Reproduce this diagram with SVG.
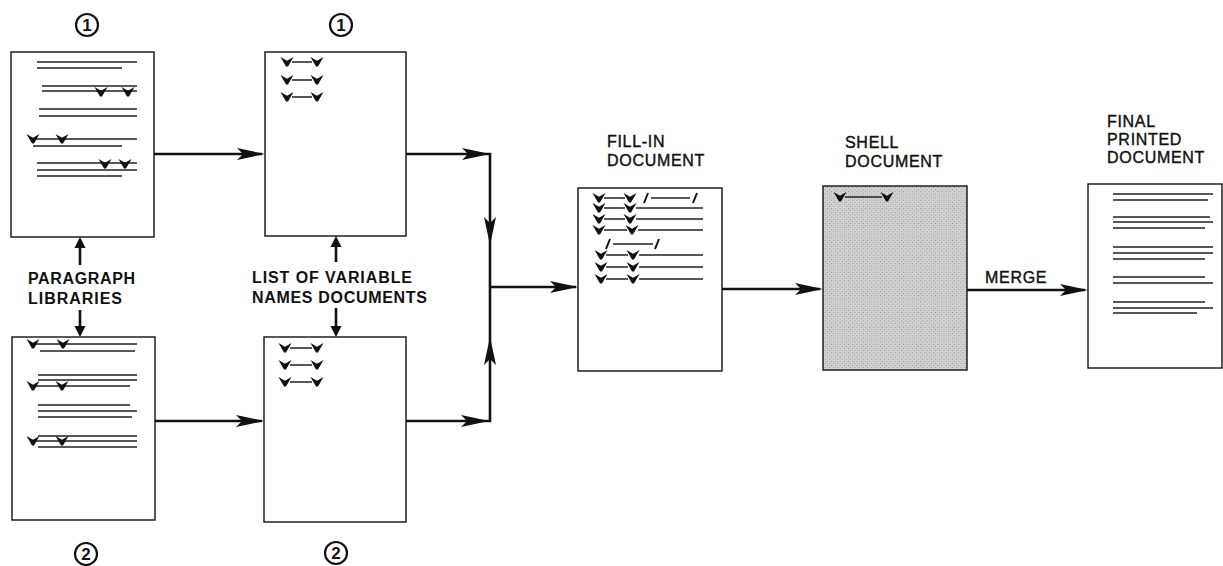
<svg xmlns="http://www.w3.org/2000/svg" xmlns:xlink="http://www.w3.org/1999/xlink" width="1223" height="566" viewBox="0 0 1223 566">
<style>
.doc{fill:#fff;stroke:#111;stroke-width:1.4}
.tl{stroke:#222;stroke-width:1.3;fill:none}
.cn{stroke:#111;stroke-width:2.6;fill:none}
.lbl{font-family:"Liberation Sans",Arial,sans-serif;font-size:16px;font-weight:bold;fill:#111}
.cap{font-family:"Liberation Sans",Arial,sans-serif;font-size:16px;fill:#111;stroke:#111;stroke-width:0.4;letter-spacing:0.7px}
.num{font-family:"Liberation Sans",Arial,sans-serif;font-size:17px;font-weight:bold;fill:#111;text-anchor:middle}
.circ{fill:none;stroke:#111;stroke-width:2.2}
.sl{stroke:#111;stroke-width:2}
</style>
<defs>
<path id="v" d="M-6.5,-5 L0,-1.2 L6.5,-5 L1,4.5 L-1,4.5 Z" fill="#111"/>
<path id="dart" d="M0,0 L-28,-6 L-22,0 L-28,6 Z" fill="#111"/>
<path id="tri" d="M0,0 L-11,-5.5 L-11,5.5 Z" fill="#111"/>
<pattern id="ht" width="3" height="3" patternUnits="userSpaceOnUse" patternTransform="rotate(45)">
<rect width="3" height="3" fill="#dadada"/>
<rect x="0" y="0" width="1" height="1" fill="#8a8a8a"/>
<rect x="1.5" y="1.5" width="1" height="1" fill="#a0a0a0"/>
</pattern>
</defs>

<g id="connectors">
<line class="cn" x1="154" y1="154" x2="262" y2="154"/>
<use xlink:href="#dart" transform="translate(265,154)"/>
<polyline class="cn" points="406,154 490,154 490,421 406,421"/>
<use xlink:href="#dart" transform="translate(490,154)"/>
<use xlink:href="#dart" transform="translate(490,245) rotate(90)"/>
<use xlink:href="#dart" transform="translate(490,337) rotate(-90)"/>
<use xlink:href="#dart" transform="translate(489,421)"/>
<line class="cn" x1="155" y1="421" x2="262" y2="421"/>
<use xlink:href="#dart" transform="translate(264,421)"/>
<line class="cn" x1="490" y1="287" x2="576" y2="287"/>
<use xlink:href="#dart" transform="translate(578,287)"/>
<line class="cn" x1="722" y1="289" x2="820" y2="289"/>
<use xlink:href="#dart" transform="translate(823,289)"/>
<line class="cn" x1="967" y1="290" x2="1085" y2="290"/>
<use xlink:href="#dart" transform="translate(1088,290)"/>
<line class="cn" x1="80" y1="265" x2="80" y2="245"/>
<use xlink:href="#tri" transform="translate(80,237) rotate(-90)"/>
<line class="cn" x1="80" y1="310" x2="80" y2="330"/>
<use xlink:href="#tri" transform="translate(80,337) rotate(90)"/>
<line class="cn" x1="336" y1="262" x2="336" y2="244"/>
<use xlink:href="#tri" transform="translate(336,236) rotate(-90)"/>
<line class="cn" x1="336" y1="308" x2="336" y2="330"/>
<use xlink:href="#tri" transform="translate(336,337) rotate(90)"/>
</g>

<g id="labels">
<text class="lbl" x="28" y="284" textLength="107" lengthAdjust="spacing">PARAGRAPH</text>
<text class="lbl" x="28" y="304" textLength="94" lengthAdjust="spacing">LIBRARIES</text>
<text class="lbl" x="252" y="283" textLength="160" lengthAdjust="spacing">LIST OF VARIABLE</text>
<text class="lbl" x="252" y="303" textLength="175" lengthAdjust="spacing">NAMES DOCUMENTS</text>
<text class="cap" x="985" y="283">MERGE</text>
</g>

<g id="num-top-1"><circle class="circ" cx="87" cy="25" r="11"/><text class="num" x="87" y="31">1</text></g>
<g id="num-top-2"><circle class="circ" cx="341" cy="25" r="11"/><text class="num" x="341" y="31">1</text></g>
<g id="num-bot-1"><circle class="circ" cx="86" cy="554" r="11"/><text class="num" x="86" y="560">2</text></g>
<g id="num-bot-2"><circle class="circ" cx="336" cy="553" r="11"/><text class="num" x="336" y="559">2</text></g>

<g id="paragraph-library-1">
<rect class="doc" x="11" y="52" width="143" height="185"/>
<path class="tl" d="M37,62H137M37,68H122M42,86H137M42,91H137M39,109H137M39,116H137M33,139H137M33,146H122M37,163H137M37,170H137M37,176H122"/>
<use xlink:href="#v" x="101" y="92"/><use xlink:href="#v" x="128" y="92"/>
<use xlink:href="#v" x="33" y="139"/><use xlink:href="#v" x="62" y="139"/>
<use xlink:href="#v" x="105" y="164"/><use xlink:href="#v" x="125" y="164"/>
</g>

<g id="variable-names-1">
<rect class="doc" x="265" y="52" width="141" height="184"/>
<path class="tl" d="M292,62H312M292,80H312M292,97H312"/>
<use xlink:href="#v" x="287" y="62"/><use xlink:href="#v" x="317" y="62"/>
<use xlink:href="#v" x="287" y="80"/><use xlink:href="#v" x="317" y="80"/>
<use xlink:href="#v" x="287" y="97"/><use xlink:href="#v" x="317" y="97"/>
</g>

<g id="paragraph-library-2">
<rect class="doc" x="12" y="337" width="143" height="183"/>
<path class="tl" d="M33,344H137M40,351H135M38,375H137M38,380H137M33,386H130M38,405H130M38,411H137M38,417H132M38,436H137M33,441H137M38,447H137"/>
<use xlink:href="#v" x="33" y="344"/><use xlink:href="#v" x="63" y="344"/>
<use xlink:href="#v" x="33" y="386"/><use xlink:href="#v" x="62" y="386"/>
<use xlink:href="#v" x="33" y="441"/><use xlink:href="#v" x="62" y="441"/>
</g>

<g id="variable-names-2">
<rect class="doc" x="264" y="337" width="142" height="185"/>
<path class="tl" d="M290,348H312M290,365H312M290,382H312"/>
<use xlink:href="#v" x="285" y="348"/><use xlink:href="#v" x="317" y="348"/>
<use xlink:href="#v" x="285" y="365"/><use xlink:href="#v" x="317" y="365"/>
<use xlink:href="#v" x="285" y="382"/><use xlink:href="#v" x="317" y="382"/>
</g>

<g id="fill-in-document">
<text class="cap" x="607" y="147">FILL-IN</text>
<text class="cap" x="607" y="166">DOCUMENT</text>
<rect class="doc" x="578" y="188" width="144" height="183"/>
<path class="tl" d="M604,198H625M651,198H690M604,208H625M636,208H703M604,219H625M636,219H703M604,230H627M638,230H703M613,244H653M606,255H628M639,255H703M606,267H628M639,267H703M606,279H628M639,279H703"/>
<use xlink:href="#v" x="599" y="198"/><use xlink:href="#v" x="630" y="198"/>
<use xlink:href="#v" x="599" y="208"/><use xlink:href="#v" x="630" y="208"/>
<use xlink:href="#v" x="599" y="219"/><use xlink:href="#v" x="630" y="219"/>
<use xlink:href="#v" x="599" y="230"/><use xlink:href="#v" x="632" y="230"/>
<use xlink:href="#v" x="601" y="255"/><use xlink:href="#v" x="633" y="255"/>
<use xlink:href="#v" x="601" y="267"/><use xlink:href="#v" x="633" y="267"/>
<use xlink:href="#v" x="601" y="279"/><use xlink:href="#v" x="633" y="279"/>
<path class="sl" d="M644,203L648,193M693,203L697,193M606,249L610,239M655,249L659,239"/>
</g>

<g id="shell-document">
<text class="cap" x="845" y="148">SHELL</text>
<text class="cap" x="845" y="167">DOCUMENT</text>
<rect x="823" y="186" width="144" height="184" fill="url(#ht)" stroke="#111" stroke-width="1.4"/>
<path class="tl" d="M845,197H882"/>
<use xlink:href="#v" x="840" y="197"/><use xlink:href="#v" x="887" y="197"/>
</g>

<g id="final-printed-document">
<text class="cap" x="1107" y="127">FINAL</text>
<text class="cap" x="1107" y="145">PRINTED</text>
<text class="cap" x="1107" y="163">DOCUMENT</text>
<rect class="doc" x="1088" y="184" width="134" height="184"/>
<path class="tl" d="M1113,194H1213M1113,200H1208M1113,217H1210M1113,222H1213M1113,228H1205M1113,247H1213M1113,253H1213M1113,259H1205M1113,277H1205M1113,283H1213M1113,302H1205M1113,308H1213M1113,313H1197"/>
</g>
</svg>
